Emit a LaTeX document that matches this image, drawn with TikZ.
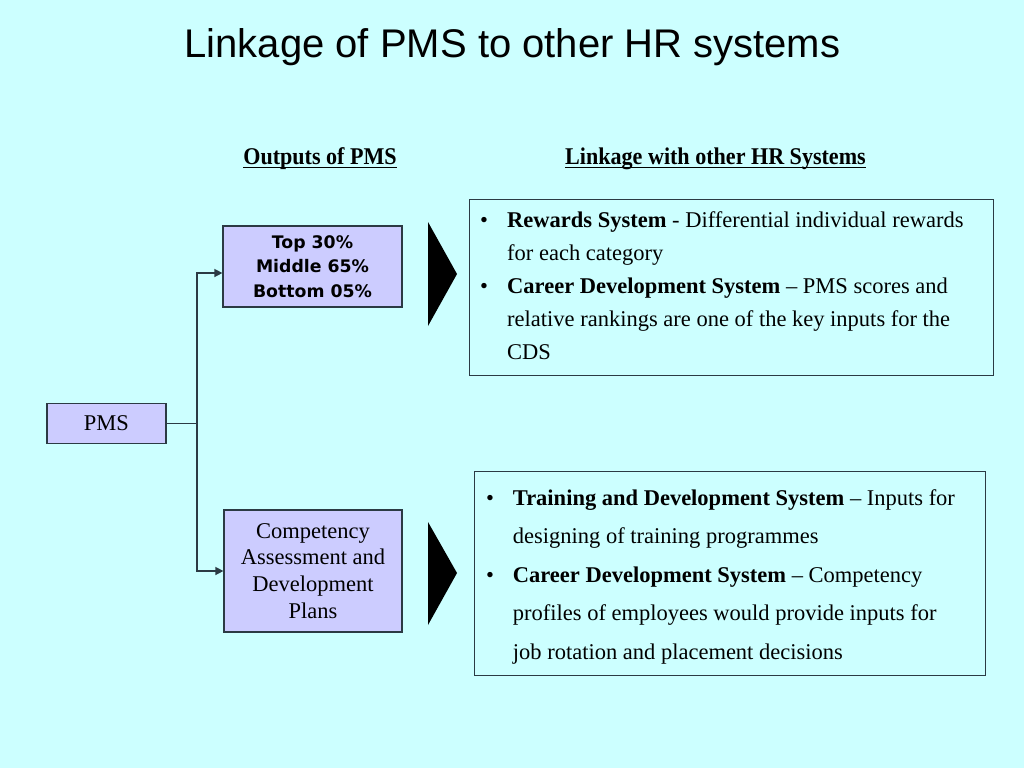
\documentclass[tikz,border=0pt]{standalone}
\usepackage{fontspec}
\setmainfont{Liberation Serif}
\newfontfamily\titlefont{Liberation Sans}
\newfontfamily\boxsans{DejaVu Sans}
\usetikzlibrary{arrows.meta,calc}
\definecolor{bg}{HTML}{CCFFFF}
\definecolor{boxfill}{HTML}{CCCCFF}
\definecolor{edge}{HTML}{2B3A44}
\newcommand\myul[1]{\setbox0\hbox{#1}\rlap{\rule[-3.6pt]{\wd0}{1.3pt}}\box0}
\begin{document}
\begin{tikzpicture}[x=1pt,y=-1pt,
  box/.style={draw=edge, line width=1.2pt, fill=boxfill, inner sep=0pt},
  panel/.style={draw=edge, line width=1pt, inner sep=0pt},
  conn/.style={draw=edge, line width=1.4pt},
  arr/.style={conn, -{Triangle[length=8pt,width=8pt]}},
  head/.style={anchor=base, font=\bfseries\fontsize{24}{28}\selectfont},
  body/.style={font=\fontsize{22.5}{26.7}\selectfont},
  pointer/.style={fill=black}]
\fill[bg] (0,0) rectangle (1024,768);
\useasboundingbox (0,0) rectangle (1024,768);

\node[anchor=base, font=\titlefont\fontsize{40}{48}\selectfont] (title) at (512.5,57) {Linkage of PMS to other HR systems};
\node[head] (h1) at (320,164.3) {\scalebox{0.92}[1]{\myul{Outputs of PMS}}};
\node[head] (h2) at (715.5,164.3) {\scalebox{0.92}[1]{\myul{Linkage with other HR Systems}}};

\node[box, body, minimum width=119pt, minimum height=40pt] (pms) at (106.5,423.5) {PMS};
\node[box, minimum width=179pt, minimum height=81pt, align=center,
      font=\boxsans\bfseries\fontsize{17.3}{24.5}\selectfont] (top) at (312.5,266.5) {Top 30\%\\Middle 65\%\\Bottom 05\%};
\node[box, body, minimum width=178pt, minimum height=122pt, align=center] (comp) at (313,571) {Competency\\Assessment and\\Development\\Plans};

\fill[pointer] (428,222) -- (457,274) -- (428,326) -- cycle;
\fill[pointer] (428,522) -- (457,573) -- (428,625) -- cycle;

\coordinate (j) at (197,0);
\draw[conn] (pms.east) -- (pms.east -| j);
\draw[arr] (pms.east -| j) |- ([yshift=-6.5pt]top.west);
\draw[arr] (pms.east -| j) |- (comp.west);

\node[panel, minimum width=524pt, minimum height=176pt] (box1) at (731,287) {};
\node[panel, minimum width=511pt, minimum height=204pt] (box2) at (729.5,573) {};

\node[anchor=base west, inner sep=0pt, font=\fontsize{22.5}{33}\selectfont] (list1) at (480,227.5) {%
\begin{tabular}[t]{@{}p{27pt}@{}l@{}}
\textbullet & \textbf{Rewards System} - Differential individual rewards\\
 & for each category\\
\textbullet & \textbf{Career Development System} -- PMS scores and\\
 & relative rankings are one of the key inputs for the\\
 & CDS
\end{tabular}};

\node[anchor=base west, inner sep=0pt, font=\fontsize{22.5}{38.5}\selectfont] (list2) at (486,505) {%
\begin{tabular}[t]{@{}p{26.7pt}@{}l@{}}
\textbullet & \textbf{Training and Development System} -- Inputs for\\
 & designing of training programmes\\
\textbullet & \textbf{Career Development System} -- Competency\\
 & profiles of employees would provide inputs for\\
 & job rotation and placement decisions
\end{tabular}};
\end{tikzpicture}
\end{document}
